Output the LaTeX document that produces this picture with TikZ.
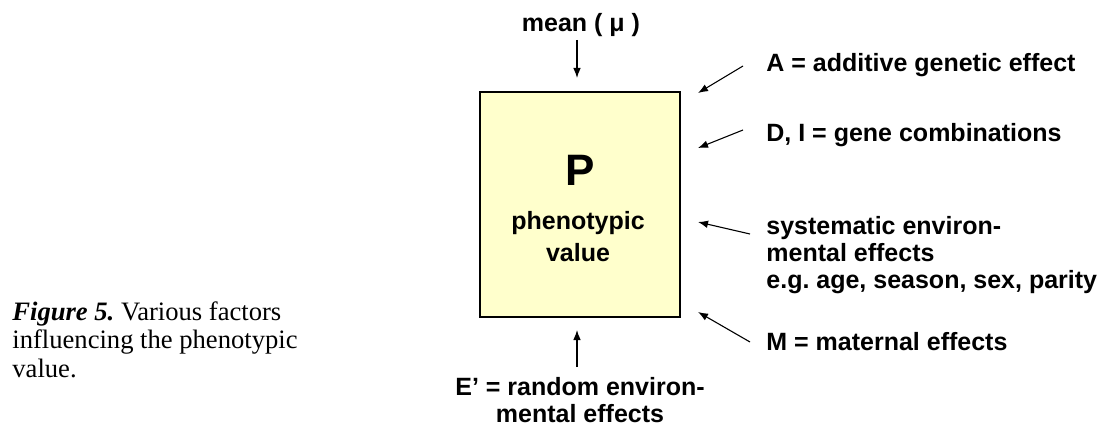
\documentclass[tikz,border=0pt]{standalone}
\usepackage{fontspec}
\setmainfont{Liberation Serif}
\setsansfont{Liberation Sans}
\usetikzlibrary{arrows.meta}
\definecolor{boxyellow}{HTML}{FFFFCC}
\frenchspacing

\begin{document}
\begin{tikzpicture}[x=0.5pt,y=-0.5pt,
	lbl/.style={font=\sffamily\bfseries\fontsize{12.5}{13.3}\selectfont, inner sep=0pt},
	arr/.style={-{Latex[length=5pt,width=3.8pt]}, line width=0.55pt}]
	\useasboundingbox (0,0) rectangle (1107,427);
	% the box
	\node[draw, line width=1pt, fill=boxyellow, minimum width=100pt, minimum height=112.5pt, inner sep=0pt] (box) at (580,204.5) {};
	\node[lbl, anchor=base] (P) at (580,186) {\fontsize{22}{22}\selectfont P};
	\node[lbl, anchor=base, align=center, font=\sffamily\bfseries\fontsize{12.5}{16}\selectfont] (pv) at (578,261) {phenotypic\\value};
	% factors (base = last line)
	\node[lbl, anchor=base] (mean) at (581,32) {mean ( μ )};
	\node[lbl, anchor=base west] (add) at (766,72) {A = additive genetic effect};
	\node[lbl, anchor=base west] (dom) at (766,142) {D, I = gene combinations};
	\node[lbl, anchor=base west, align=left] (sys) at (766,288) {systematic environ-\\mental effects\\e.g. age, season, sex, parity};
	\node[lbl, anchor=base west] (mat) at (766,350) {M = maternal effects};
	\node[lbl, anchor=base, align=center] (rnd) at (580,422) {E’ = random environ-\\mental effects};
	% arrow ends
	\coordinate (mean1) at (577,40);  \coordinate (mean2) at (577,78);
	\coordinate (add1) at (743,66);   \coordinate (add2) at (698,93);
	\coordinate (dom1) at (743,130);  \coordinate (dom2) at (698,148);
	\coordinate (sys1) at (750,234);  \coordinate (sys2) at (698,222);
	\coordinate (mat1) at (750,342);  \coordinate (mat2) at (698,312);
	\coordinate (rnd1) at (577,367);  \coordinate (rnd2) at (577,330);
	\foreach \f in {mean,add,dom,sys,mat,rnd}
		\draw[arr] (\f1) -- (\f2);
	% caption
	\node[anchor=base west, align=left, inner sep=0pt, font=\fontsize{13.3}{14.25}\selectfont] (cap) at (12,377) {\textbf{\textit{Figure 5.}} Various factors\\influencing the phenotypic\\value.};
\end{tikzpicture}
\end{document}
